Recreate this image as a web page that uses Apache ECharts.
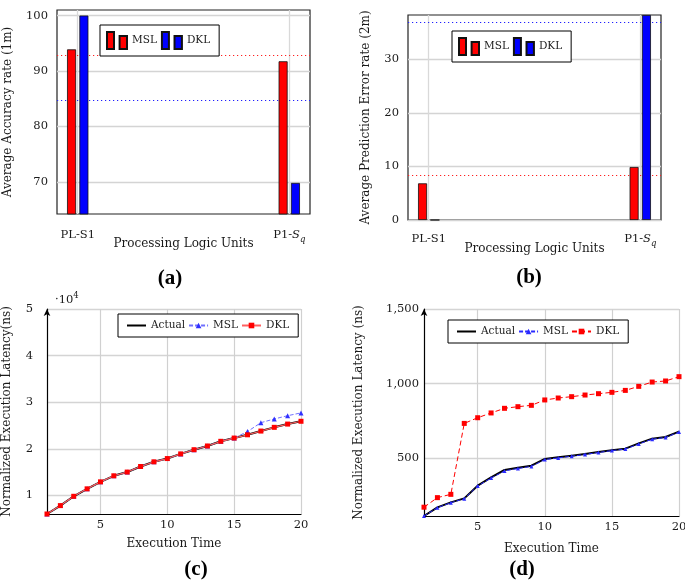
<!DOCTYPE html>
<html><head><meta charset="utf-8">
<script src="https://cdn.jsdelivr.net/npm/echarts@6/dist/echarts.min.js"></script>
<style>html,body{margin:0;padding:0;background:#fff}#c{width:685px;height:585px}</style>
</head><body><div id="c"></div><script>
// ---------- data ----------
const units = ['PL-S1', 'P1-Sq'];
const unitPos = [0, 1];
const accMSL = [93.9, 91.75];
const accDKL = [100, 69.8];
const accAvgMSL = 92.8;
const accAvgDKL = 84.8;
const errMSL = [6.85, 9.9];
const errDKL = [0, 38.3];
const errAvgMSL = 8.3;
const errAvgDKL = 36.9;

const execTime = [1, 2, 3, 4, 5, 6, 7, 8, 9, 10, 11, 12, 13, 14, 15, 16, 17, 18, 19, 20];
const latActualC = [6000, 7800, 9800, 11400, 12900, 14200, 15000, 16200, 17200, 17900, 18900, 19800, 20600, 21600, 22300, 23000, 23800, 24600, 25300, 25900];
const latMslC    = [6000, 7800, 9800, 11400, 12900, 14200, 15000, 16200, 17200, 17900, 18900, 19800, 20600, 21600, 22300, 23700, 25600, 26400, 27100, 27700];
const latDklC    = [6000, 7800, 9800, 11400, 12900, 14200, 15000, 16200, 17200, 17900, 18900, 19800, 20600, 21600, 22300, 23000, 23800, 24600, 25300, 25900];
const latActualD = [114, 172, 205, 232, 317, 373, 422, 437, 451, 496, 507, 518, 529, 542, 554, 565, 600, 632, 643, 679];
const latMslD    = [114, 170, 203, 230, 315, 368, 416, 432, 446, 492, 503, 514, 526, 539, 552, 562, 596, 628, 640, 676];
const latDklD    = [173, 237, 259, 734, 772, 804, 835, 846, 855, 891, 904, 913, 924, 933, 942, 955, 982, 1011, 1018, 1047];

const ticksAccY = [70, 80, 90, 100];
const ticksErrY = [0, 10, 20, 30];
const ticksLatCY = [10000, 20000, 30000, 40000, 50000];
const ticksLatDY = [500, 1000, 1500];
const ticksTimeX = [5, 10, 15, 20];

// ---------- helpers ----------
const F = 'DejaVu Serif';
const TXT = '#1a1a1a';
const FS = 11.5;   // tick labels
const NS = 12;     // axis names
const pair = (xs, ys) => xs.map((x, i) => [x, ys[i]]);
const BAR_ICON = 'path://M0,0h7v17h-7z M12.6,4h7.4v13h-7.4z';
const nameFmt = n => n.split('_')[0];

function unitLabel(v) {
  const i = unitPos.indexOf(v);
  const s = units[i] || '';
  if (s.indexOf('-S') > 0 && s.endsWith('q')) {
    const base = s.slice(0, s.indexOf('-') + 1);
    return '{n|' + base + '}{i|S}{s|q}';
  }
  return '{n|' + s + '}';
}
const unitRich = {
  n: {fontFamily: F, fontSize: FS, color: TXT, padding: [0, 0, 3, 0], verticalAlign: 'bottom'},
  i: {fontFamily: F, fontSize: FS, fontStyle: 'italic', color: TXT, padding: [0, 0, 3, 0], verticalAlign: 'bottom'},
  s: {fontFamily: F, fontSize: 8.5, fontStyle: 'italic', color: TXT, verticalAlign: 'bottom'}
};

function barX(gi, nameGap, margin) {
  return {
    type: 'value', gridIndex: gi, min: -0.098, max: 1.098,
    axisLine: {show: false},
    axisTick: {show: false, customValues: unitPos},
    splitLine: {show: true, lineStyle: {color: '#d9d9d9', width: 1.3}},
    axisLabel: {customValues: unitPos, margin: margin, formatter: unitLabel, rich: unitRich},
    name: 'Processing Logic Units', nameLocation: 'middle', nameGap: nameGap, nameMoveOverlap: false,
    nameTextStyle: {fontFamily: F, fontSize: NS, color: TXT}
  };
}
function valY(gi, min, max, ticks, fmt, margin, name, nameGap, arrow) {
  return {
    type: 'value', gridIndex: gi, min: min, max: max,
    axisLine: arrow ? {show: true, lineStyle: {color: '#000', width: 1.2}, symbol: ['none', 'arrow'], symbolSize: [5, 7]} : {show: false},
    axisTick: {show: false, customValues: ticks},
    splitLine: {show: true, lineStyle: {color: '#d4d4d4', width: 1.3}},
    axisLabel: {customValues: ticks, margin: margin, formatter: fmt, fontFamily: F, fontSize: FS, color: TXT},
    name: name, nameLocation: 'middle', nameGap: nameGap, nameMoveOverlap: false,
    nameTextStyle: {fontFamily: F, fontSize: NS, color: TXT}
  };
}
function timeX(gi, nameGap) {
  return {
    type: 'value', gridIndex: gi, min: execTime[0], max: execTime[execTime.length - 1],
    axisLine: {show: true, lineStyle: {color: '#000', width: 1.2}},
    axisTick: {show: false, customValues: ticksTimeX},
    splitLine: {show: true, lineStyle: {color: '#d0d0d0', width: 1.2}},
    axisLabel: {customValues: ticksTimeX, margin: 5, fontFamily: F, fontSize: FS, color: TXT},
    name: 'Execution Time', nameLocation: 'middle', nameGap: nameGap, nameMoveOverlap: false,
    nameTextStyle: {fontFamily: F, fontSize: NS, color: TXT}
  };
}
function barSeries(name, gi, ys, color, avg, avgColor) {
  const ls = {color: avgColor, type: [1.2, 2.8], width: 1.1, opacity: 1};
  return {
    type: 'bar', name: name, xAxisIndex: gi, yAxisIndex: gi,
    data: pair(unitPos, ys), barWidth: 9, barGap: '37%',
    itemStyle: {color: color, borderColor: '#111', borderWidth: 0.8},
    z: 3,
    markLine: {
      silent: true, symbol: ['none', 'none'], z: 1, label: {show: false},
      lineStyle: ls, itemStyle: {color: avgColor},
      emphasis: {disabled: true},
      data: [{yAxis: avg, lineStyle: ls, itemStyle: {color: avgColor}}]
    }
  };
}
function legendBar(left, top, names) {
  return {
    left: left, top: top, data: names, icon: BAR_ICON, itemWidth: 20, itemHeight: 17, itemGap: 4,
    padding: [6, 9, 6, 6], borderColor: '#000', borderWidth: 1, borderRadius: 0, backgroundColor: '#fff',
    formatter: nameFmt, selectedMode: false,
    textStyle: {fontFamily: F, fontSize: 10.5, color: TXT}
  };
}
function legendLine(left, top, names) {
  return {
    left: left, top: top, data: names, itemWidth: 19, itemHeight: 7, itemGap: 3,
    padding: [6, 9, 6, 8], borderColor: '#000', borderWidth: 1, borderRadius: 0, backgroundColor: '#fff',
    formatter: nameFmt, selectedMode: false,
    textStyle: {fontFamily: F, fontSize: 10.5, color: TXT}
  };
}
const NOFILL = 'rgba(0,0,0,0)';

const chart = echarts.init(document.getElementById('c'), null, {renderer: 'canvas'});
const gridBase = {containLabel: false, outerBoundsMode: 'none'};
chart.setOption({
  animation: false,
  backgroundColor: '#fff',
  grid: [
    Object.assign({left: 57, top: 10, width: 253, height: 204, show: true, borderColor: '#222', borderWidth: 1.2}, gridBase),
    Object.assign({left: 408, top: 15, width: 253, height: 205, show: true, borderColor: '#222', borderWidth: 1.2}, gridBase),
    Object.assign({left: 47, top: 309, width: 254, height: 205}, gridBase),
    Object.assign({left: 424, top: 309, width: 255, height: 207}, gridBase)
  ],
  xAxis: [barX(0, 24, 15), barX(1, 23, 13), timeX(2, 24), timeX(3, 27)],
  yAxis: [
    valY(0, 64.2, 101, ticksAccY, v => v, 9, 'Average Accuracy rate (1m)', 43, false),
    valY(1, 0, Math.max(...errDKL), ticksErrY, v => v, 9, 'Average Prediction Error rate (2m)', 36, false),
    valY(2, Math.min(...latActualC), 50000, ticksLatCY, v => v / 10000, 14, 'Normalized Execution Latency(ns)', 34, true),
    valY(3, Math.min(...latActualD), 1500, ticksLatDY, v => v.toLocaleString('en-US'), 5, 'Normalized Execution Latency (ns)', 59, true)
  ],
  legend: [
    legendBar(100, 25, ['MSL_a', 'DKL_a']),
    legendBar(452, 31, ['MSL_b', 'DKL_b']),
    legendLine(118, 314, ['Actual_c', 'MSL_c', 'DKL_c']),
    legendLine(448, 320, ['Actual_d', 'MSL_d', 'DKL_d'])
  ],
  graphic: [
    {type: 'text', x: 170, y: 279, style: {text: '(a)', font: 'bold 21px "Liberation Serif"', fill: '#000', align: 'center', verticalAlign: 'middle'}},
    {type: 'text', x: 529, y: 278, style: {text: '(b)', font: 'bold 21px "Liberation Serif"', fill: '#000', align: 'center', verticalAlign: 'middle'}},
    {type: 'text', x: 196, y: 570, style: {text: '(c)', font: 'bold 21px "Liberation Serif"', fill: '#000', align: 'center', verticalAlign: 'middle'}},
    {type: 'text', x: 522, y: 570, style: {text: '(d)', font: 'bold 21px "Liberation Serif"', fill: '#000', align: 'center', verticalAlign: 'middle'}},
    {type: 'text', x: 55, y: 299, style: {text: '{a|·10}{b|4}', fill: TXT, align: 'left', verticalAlign: 'middle',
      rich: {a: {fontFamily: F, fontSize: FS, color: TXT, verticalAlign: 'bottom'},
             b: {fontFamily: F, fontSize: 8.5, color: TXT, padding: [0, 0, 6, 0], verticalAlign: 'bottom'}}}}
  ],
  series: [
    barSeries('MSL_a', 0, accMSL, '#ff0000', accAvgMSL, '#ff2020'),
    barSeries('DKL_a', 0, accDKL, '#0000ff', accAvgDKL, '#2020ff'),
    barSeries('MSL_b', 1, errMSL, '#ff0000', errAvgMSL, '#ff2020'),
    barSeries('DKL_b', 1, errDKL, '#0000ff', errAvgDKL, '#2020ff'),
    {type: 'line', name: 'Actual_c', xAxisIndex: 2, yAxisIndex: 2, data: pair(execTime, latActualC),
      symbol: 'none', lineStyle: {color: '#000', width: 2}, itemStyle: {color: NOFILL, borderColor: NOFILL, borderWidth: 0}, z: 2},
    {type: 'line', name: 'MSL_c', xAxisIndex: 2, yAxisIndex: 2, data: pair(execTime, latMslC),
      symbol: 'triangle', symbolSize: 5, showAllSymbol: true,
      lineStyle: {color: '#7070ff', width: 1, type: [4, 2]}, itemStyle: {color: '#3030ff'}, z: 3},
    {type: 'line', name: 'DKL_c', xAxisIndex: 2, yAxisIndex: 2, data: pair(execTime, latDklC),
      symbol: 'rect', symbolSize: 5, showAllSymbol: true,
      lineStyle: {color: '#ff6060', width: 1.2}, itemStyle: {color: '#ff0000'}, z: 4},
    {type: 'line', name: 'Actual_d', xAxisIndex: 3, yAxisIndex: 3, data: pair(execTime, latActualD),
      symbol: 'none', lineStyle: {color: '#000', width: 2}, itemStyle: {color: NOFILL, borderColor: NOFILL, borderWidth: 0}, z: 2},
    {type: 'line', name: 'MSL_d', xAxisIndex: 3, yAxisIndex: 3, data: pair(execTime, latMslD),
      symbol: 'triangle', symbolSize: 4, showAllSymbol: true,
      lineStyle: {color: '#2a2aff', width: 1, type: [4, 2]}, itemStyle: {color: '#2a2aff'}, z: 3},
    {type: 'line', name: 'DKL_d', xAxisIndex: 3, yAxisIndex: 3, data: pair(execTime, latDklD),
      symbol: 'rect', symbolSize: 5, showAllSymbol: true,
      lineStyle: {color: '#ff0000', width: 1, type: [5, 3]}, itemStyle: {color: '#ff0000'}, z: 4}
  ]
});
</script></body></html>
